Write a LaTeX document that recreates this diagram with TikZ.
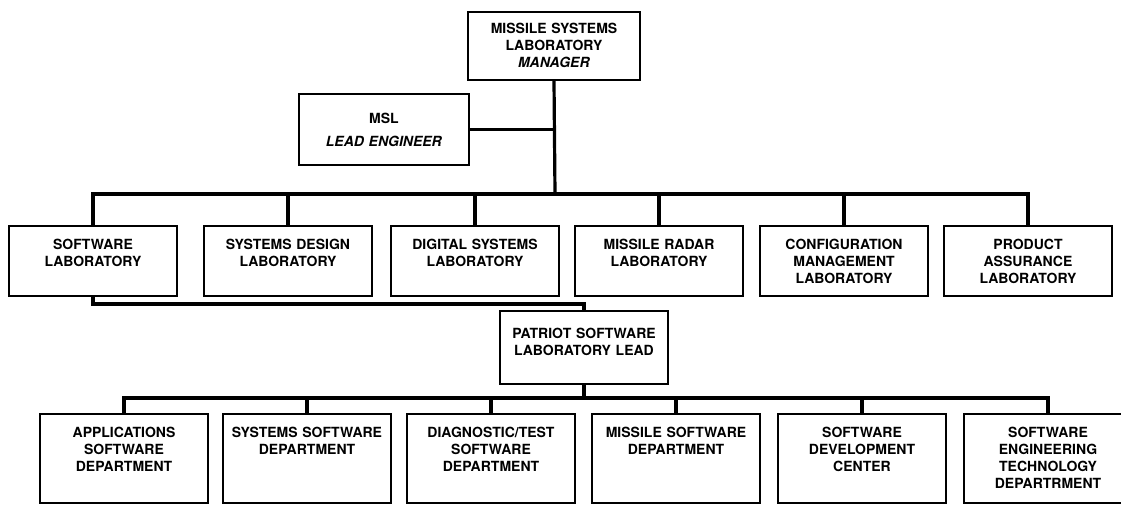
\documentclass[tikz,border=0pt]{standalone}
\usepackage{fontspec}
\setmainfont{TeX Gyre Heros}

\begin{document}
\begin{tikzpicture}[x=1pt,y=-1pt,
        unit/.style={draw,line width=2.2pt,anchor=north,inner sep=0pt,text width=168pt,align=center,font=\bfseries\fontsize{14}{17}\selectfont},
        lab/.style={unit,text height=23pt,text depth=47pt},
        dept/.style={unit,text height=23pt,text depth=66pt},
        wire/.style={line width=3.2pt}]
        \useasboundingbox (0,0) rectangle (1121,506);

        \node[unit,text width=172pt,text height=21pt,text depth=47pt] (mgr) at (554,11) {MISSILE SYSTEMS\\LABORATORY\\\textit{MANAGER}};
        \node[unit,text width=170pt,text height=29pt,text depth=42pt] (msl) at (384,93) {MSL\\[6pt]\textit{LEAD ENGINEER}};

        % laboratories
        \node[lab] (swl) at (93,225) {SOFTWARE\\LABORATORY};
        \node[lab] (sdl) at (288,225) {SYSTEMS DESIGN\\LABORATORY};
        \node[lab] (dsl) at (475,225) {DIGITAL SYSTEMS\\LABORATORY};
        \node[lab] (mrl) at (659,225) {MISSILE RADAR\\LABORATORY};
        \node[lab] (cml) at (844,225) {CONFIGURATION\\MANAGEMENT\\LABORATORY};
        \node[lab] (pal) at (1028,225) {PRODUCT\\ASSURANCE\\LABORATORY};

        \node[unit,text height=27pt,text depth=46pt] (psl) at (584,310) {PATRIOT SOFTWARE\\LABORATORY LEAD};

        % departments
        \node[dept] (apd) at (124,413) {APPLICATIONS\\SOFTWARE\\DEPARTMENT};
        \node[dept] (ssd) at (307,413) {SYSTEMS SOFTWARE\\DEPARTMENT};
        \node[dept] (dtd) at (491,413) {DIAGNOSTIC/TEST\\SOFTWARE\\DEPARTMENT};
        \node[dept] (msd) at (676,413) {MISSILE SOFTWARE\\DEPARTMENT};
        \node[dept] (sdc) at (862,413) {SOFTWARE\\DEVELOPMENT\\CENTER};
        \node[dept] (setd) at (1048,413) {SOFTWARE\\ENGINEERING\\TECHNOLOGY\\DEPARTRMENT};

        \coordinate (bus1) at (555,194);
        \coordinate (bus2) at (584,398);
        \coordinate (kink) at (584,304);

        \draw[wire] (mgr.south) -- (bus1);
        \draw[wire] (msl.east) -- (msl.east -| bus1);
        \draw[wire] (swl.north) |- (bus1) -| (pal.north);
        \foreach \n in {sdl,dsl,mrl,cml}
        {
            \draw[wire] (\n.north) -- (\n.north |- bus1);
        }

        \draw[wire] (swl.south) |- (kink) -- (psl.north);

        \draw[wire] (psl.south) -- (bus2);
        \draw[wire] (apd.north) |- (bus2) -| (setd.north);
        \foreach \n in {ssd,dtd,msd,sdc}
        {
            \draw[wire] (\n.north) -- (\n.north |- bus2);
        }

    \end{tikzpicture}
\end{document}
